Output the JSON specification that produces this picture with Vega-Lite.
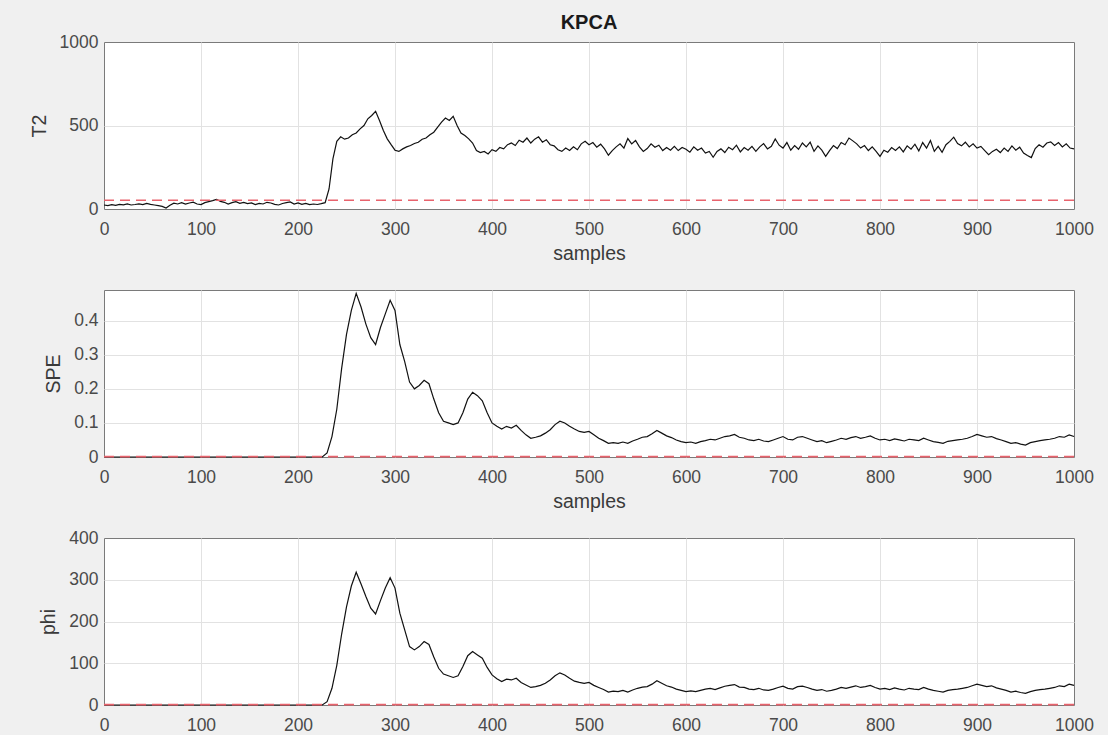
{
  "$schema": "https://vega.github.io/schema/vega-lite/v6.json",
  "background": "#f0f0f0",
  "padding": {"left": 28, "top": 12, "right": 16, "bottom": 2},
  "bounds": "flush",
  "spacing": 81,
  "config": {
    "font": "Liberation Sans",
    "view": {"stroke": "#7a7a7a", "strokeWidth": 1, "fill": "white"},
    "axis": {
      "labelFont": "Liberation Sans", "labelFontSize": 17.5, "labelColor": "#4a4a4a",
      "titleFont": "Liberation Sans", "titleFontSize": 19.5, "titleFontWeight": "normal", "titleColor": "#3a3a3a",
      "gridColor": "#e2e2e2", "gridWidth": 1,
      "domain": false, "ticks": false,
      "labelFlush": false, "labelOverlap": false
    },
    "axisX": {"labelPadding": 11, "titlePadding": 7},
    "axisY": {"labelPadding": 6, "titlePadding": 10}
  },
  "datasets": {
    "t2": [
      {"sample":0,"T2":24},{"sample":4,"T2":20},{"sample":8,"T2":26},{"sample":12,"T2":22},{"sample":16,"T2":28},{"sample":20,"T2":25},{"sample":24,"T2":30},{"sample":28,"T2":24},{"sample":32,"T2":27},{"sample":36,"T2":31},
      {"sample":40,"T2":26},{"sample":44,"T2":34},{"sample":48,"T2":28},{"sample":52,"T2":24},{"sample":56,"T2":20},{"sample":60,"T2":16},{"sample":64,"T2":6},{"sample":68,"T2":22},{"sample":72,"T2":35},{"sample":76,"T2":30},
      {"sample":80,"T2":38},{"sample":84,"T2":29},{"sample":88,"T2":36},{"sample":92,"T2":41},{"sample":96,"T2":30},{"sample":100,"T2":26},{"sample":104,"T2":38},{"sample":108,"T2":44},{"sample":112,"T2":50},{"sample":116,"T2":58},
      {"sample":120,"T2":46},{"sample":124,"T2":40},{"sample":128,"T2":30},{"sample":132,"T2":38},{"sample":136,"T2":44},{"sample":140,"T2":34},{"sample":144,"T2":40},{"sample":148,"T2":32},{"sample":152,"T2":36},{"sample":156,"T2":26},
      {"sample":160,"T2":34},{"sample":164,"T2":30},{"sample":168,"T2":40},{"sample":172,"T2":36},{"sample":176,"T2":28},{"sample":180,"T2":24},{"sample":184,"T2":33},{"sample":188,"T2":38},{"sample":192,"T2":42},{"sample":196,"T2":30},
      {"sample":200,"T2":36},{"sample":204,"T2":28},{"sample":208,"T2":34},{"sample":212,"T2":26},{"sample":216,"T2":30},{"sample":220,"T2":27},{"sample":224,"T2":32},{"sample":228,"T2":38},{"sample":232,"T2":120},{"sample":236,"T2":300},
      {"sample":240,"T2":405},{"sample":244,"T2":432},{"sample":248,"T2":418},{"sample":252,"T2":425},{"sample":256,"T2":445},{"sample":260,"T2":455},{"sample":264,"T2":480},{"sample":268,"T2":500},{"sample":272,"T2":540},{"sample":276,"T2":560},
      {"sample":280,"T2":585},{"sample":284,"T2":530},{"sample":288,"T2":470},{"sample":292,"T2":420},{"sample":296,"T2":385},{"sample":300,"T2":352},{"sample":304,"T2":345},{"sample":308,"T2":360},{"sample":312,"T2":372},{"sample":316,"T2":380},
      {"sample":320,"T2":392},{"sample":324,"T2":400},{"sample":328,"T2":418},{"sample":332,"T2":425},{"sample":336,"T2":445},{"sample":340,"T2":460},{"sample":344,"T2":490},{"sample":348,"T2":520},{"sample":352,"T2":545},{"sample":356,"T2":530},
      {"sample":360,"T2":555},{"sample":364,"T2":500},{"sample":368,"T2":455},{"sample":372,"T2":440},{"sample":376,"T2":420},{"sample":380,"T2":395},{"sample":384,"T2":350},{"sample":388,"T2":338},{"sample":392,"T2":345},{"sample":396,"T2":330},
      {"sample":400,"T2":355},{"sample":404,"T2":345},{"sample":408,"T2":368},{"sample":412,"T2":360},{"sample":416,"T2":385},{"sample":420,"T2":395},{"sample":424,"T2":380},{"sample":428,"T2":412},{"sample":432,"T2":400},{"sample":436,"T2":425},
      {"sample":440,"T2":395},{"sample":444,"T2":418},{"sample":448,"T2":432},{"sample":452,"T2":400},{"sample":456,"T2":415},{"sample":460,"T2":385},{"sample":464,"T2":378},{"sample":468,"T2":355},{"sample":472,"T2":345},{"sample":476,"T2":365},
      {"sample":480,"T2":350},{"sample":484,"T2":372},{"sample":488,"T2":355},{"sample":492,"T2":390},{"sample":496,"T2":405},{"sample":500,"T2":385},{"sample":504,"T2":398},{"sample":508,"T2":370},{"sample":512,"T2":388},{"sample":516,"T2":360},
      {"sample":520,"T2":322},{"sample":524,"T2":350},{"sample":528,"T2":372},{"sample":532,"T2":390},{"sample":536,"T2":365},{"sample":540,"T2":422},{"sample":544,"T2":390},{"sample":548,"T2":410},{"sample":552,"T2":372},{"sample":556,"T2":345},
      {"sample":560,"T2":362},{"sample":564,"T2":390},{"sample":568,"T2":370},{"sample":572,"T2":382},{"sample":576,"T2":350},{"sample":580,"T2":368},{"sample":584,"T2":352},{"sample":588,"T2":375},{"sample":592,"T2":350},{"sample":596,"T2":368},
      {"sample":600,"T2":358},{"sample":604,"T2":340},{"sample":608,"T2":372},{"sample":612,"T2":352},{"sample":616,"T2":365},{"sample":620,"T2":335},{"sample":624,"T2":345},{"sample":628,"T2":310},{"sample":632,"T2":345},{"sample":636,"T2":360},
      {"sample":640,"T2":338},{"sample":644,"T2":370},{"sample":648,"T2":355},{"sample":652,"T2":382},{"sample":656,"T2":342},{"sample":660,"T2":368},{"sample":664,"T2":352},{"sample":668,"T2":375},{"sample":672,"T2":345},{"sample":676,"T2":372},
      {"sample":680,"T2":392},{"sample":684,"T2":360},{"sample":688,"T2":375},{"sample":692,"T2":420},{"sample":696,"T2":382},{"sample":700,"T2":365},{"sample":704,"T2":398},{"sample":708,"T2":352},{"sample":712,"T2":380},{"sample":716,"T2":358},
      {"sample":720,"T2":395},{"sample":724,"T2":372},{"sample":728,"T2":400},{"sample":732,"T2":345},{"sample":736,"T2":378},{"sample":740,"T2":352},{"sample":744,"T2":315},{"sample":748,"T2":350},{"sample":752,"T2":380},{"sample":756,"T2":362},
      {"sample":760,"T2":398},{"sample":764,"T2":385},{"sample":768,"T2":425},{"sample":772,"T2":408},{"sample":776,"T2":390},{"sample":780,"T2":365},{"sample":784,"T2":380},{"sample":788,"T2":350},{"sample":792,"T2":372},{"sample":796,"T2":345},
      {"sample":800,"T2":315},{"sample":804,"T2":352},{"sample":808,"T2":340},{"sample":812,"T2":368},{"sample":816,"T2":350},{"sample":820,"T2":372},{"sample":824,"T2":342},{"sample":828,"T2":378},{"sample":832,"T2":358},{"sample":836,"T2":388},
      {"sample":840,"T2":348},{"sample":844,"T2":398},{"sample":848,"T2":365},{"sample":852,"T2":410},{"sample":856,"T2":345},{"sample":860,"T2":375},{"sample":864,"T2":340},{"sample":868,"T2":385},{"sample":872,"T2":405},{"sample":876,"T2":430},
      {"sample":880,"T2":392},{"sample":884,"T2":378},{"sample":888,"T2":400},{"sample":892,"T2":372},{"sample":896,"T2":390},{"sample":900,"T2":365},{"sample":904,"T2":375},{"sample":908,"T2":350},{"sample":912,"T2":325},{"sample":916,"T2":345},
      {"sample":920,"T2":358},{"sample":924,"T2":338},{"sample":928,"T2":365},{"sample":932,"T2":345},{"sample":936,"T2":378},{"sample":940,"T2":352},{"sample":944,"T2":370},{"sample":948,"T2":335},{"sample":952,"T2":320},{"sample":956,"T2":308},
      {"sample":960,"T2":362},{"sample":964,"T2":385},{"sample":968,"T2":370},{"sample":972,"T2":395},{"sample":976,"T2":402},{"sample":980,"T2":380},{"sample":984,"T2":398},{"sample":988,"T2":372},{"sample":992,"T2":390},{"sample":996,"T2":365},
      {"sample":1000,"T2":360}
    ],
    "series": [
      {"sample":0,"SPE":0,"phi":0},{"sample":50,"SPE":0,"phi":0},{"sample":100,"SPE":0,"phi":0},{"sample":150,"SPE":0,"phi":0},{"sample":200,"SPE":0,"phi":0},{"sample":225,"SPE":0,"phi":0},
      {"sample":230,"SPE":0.012,"phi":8},{"sample":235,"SPE":0.06,"phi":40},{"sample":240,"SPE":0.14,"phi":95},{"sample":245,"SPE":0.26,"phi":170},
      {"sample":250,"SPE":0.36,"phi":235},{"sample":255,"SPE":0.43,"phi":285},{"sample":260,"SPE":0.48,"phi":318},{"sample":265,"SPE":0.44,"phi":290},{"sample":270,"SPE":0.39,"phi":260},{"sample":275,"SPE":0.35,"phi":232},{"sample":280,"SPE":0.33,"phi":218},{"sample":285,"SPE":0.38,"phi":250},{"sample":290,"SPE":0.42,"phi":280},{"sample":295,"SPE":0.46,"phi":305},
      {"sample":300,"SPE":0.43,"phi":280},{"sample":305,"SPE":0.33,"phi":220},{"sample":310,"SPE":0.28,"phi":180},{"sample":315,"SPE":0.22,"phi":140},{"sample":320,"SPE":0.2,"phi":132},{"sample":325,"SPE":0.21,"phi":140},{"sample":330,"SPE":0.225,"phi":152},{"sample":335,"SPE":0.215,"phi":145},{"sample":340,"SPE":0.17,"phi":115},{"sample":345,"SPE":0.13,"phi":88},
      {"sample":350,"SPE":0.105,"phi":74},{"sample":355,"SPE":0.1,"phi":70},{"sample":360,"SPE":0.095,"phi":66},{"sample":365,"SPE":0.1,"phi":70},{"sample":370,"SPE":0.13,"phi":92},{"sample":375,"SPE":0.17,"phi":118},{"sample":380,"SPE":0.19,"phi":128},{"sample":385,"SPE":0.18,"phi":120},{"sample":390,"SPE":0.165,"phi":112},{"sample":395,"SPE":0.13,"phi":90},
      {"sample":400,"SPE":0.1,"phi":72},{"sample":405,"SPE":0.09,"phi":63},{"sample":410,"SPE":0.082,"phi":56},{"sample":415,"SPE":0.09,"phi":62},{"sample":420,"SPE":0.085,"phi":60},{"sample":425,"SPE":0.093,"phi":64},{"sample":430,"SPE":0.078,"phi":54},{"sample":435,"SPE":0.065,"phi":48},{"sample":440,"SPE":0.055,"phi":42},{"sample":445,"SPE":0.058,"phi":44},
      {"sample":450,"SPE":0.062,"phi":47},{"sample":455,"SPE":0.07,"phi":52},{"sample":460,"SPE":0.08,"phi":60},{"sample":465,"SPE":0.095,"phi":70},{"sample":470,"SPE":0.105,"phi":77},{"sample":475,"SPE":0.1,"phi":72},{"sample":480,"SPE":0.09,"phi":64},{"sample":485,"SPE":0.082,"phi":57},{"sample":490,"SPE":0.075,"phi":54},{"sample":495,"SPE":0.072,"phi":52},
      {"sample":500,"SPE":0.075,"phi":54},{"sample":505,"SPE":0.065,"phi":47},{"sample":510,"SPE":0.055,"phi":42},{"sample":515,"SPE":0.048,"phi":37},{"sample":520,"SPE":0.04,"phi":31},{"sample":525,"SPE":0.042,"phi":33},{"sample":530,"SPE":0.04,"phi":32},{"sample":535,"SPE":0.044,"phi":35},{"sample":540,"SPE":0.04,"phi":31},{"sample":545,"SPE":0.047,"phi":36},
      {"sample":550,"SPE":0.052,"phi":40},{"sample":555,"SPE":0.058,"phi":43},{"sample":560,"SPE":0.06,"phi":44},{"sample":565,"SPE":0.068,"phi":50},{"sample":570,"SPE":0.078,"phi":58},{"sample":575,"SPE":0.07,"phi":52},{"sample":580,"SPE":0.062,"phi":46},{"sample":585,"SPE":0.057,"phi":43},{"sample":590,"SPE":0.05,"phi":38},{"sample":595,"SPE":0.045,"phi":35},
      {"sample":600,"SPE":0.042,"phi":32},{"sample":605,"SPE":0.044,"phi":34},{"sample":610,"SPE":0.04,"phi":32},{"sample":615,"SPE":0.045,"phi":35},{"sample":620,"SPE":0.048,"phi":38},{"sample":625,"SPE":0.052,"phi":40},{"sample":630,"SPE":0.05,"phi":37},{"sample":635,"SPE":0.055,"phi":41},{"sample":640,"SPE":0.06,"phi":45},{"sample":645,"SPE":0.062,"phi":47},
      {"sample":650,"SPE":0.066,"phi":49},{"sample":655,"SPE":0.058,"phi":43},{"sample":660,"SPE":0.055,"phi":42},{"sample":665,"SPE":0.05,"phi":38},{"sample":670,"SPE":0.048,"phi":37},{"sample":675,"SPE":0.052,"phi":40},{"sample":680,"SPE":0.047,"phi":36},{"sample":685,"SPE":0.045,"phi":35},{"sample":690,"SPE":0.05,"phi":38},{"sample":695,"SPE":0.055,"phi":42},
      {"sample":700,"SPE":0.06,"phi":45},{"sample":705,"SPE":0.052,"phi":40},{"sample":710,"SPE":0.05,"phi":38},{"sample":715,"SPE":0.058,"phi":44},{"sample":720,"SPE":0.06,"phi":45},{"sample":725,"SPE":0.055,"phi":42},{"sample":730,"SPE":0.05,"phi":38},{"sample":735,"SPE":0.045,"phi":35},{"sample":740,"SPE":0.048,"phi":37},{"sample":745,"SPE":0.042,"phi":33},
      {"sample":750,"SPE":0.046,"phi":35},{"sample":755,"SPE":0.05,"phi":38},{"sample":760,"SPE":0.055,"phi":42},{"sample":765,"SPE":0.052,"phi":40},{"sample":770,"SPE":0.057,"phi":43},{"sample":775,"SPE":0.06,"phi":46},{"sample":780,"SPE":0.055,"phi":42},{"sample":785,"SPE":0.058,"phi":44},{"sample":790,"SPE":0.062,"phi":47},{"sample":795,"SPE":0.055,"phi":42},
      {"sample":800,"SPE":0.05,"phi":38},{"sample":805,"SPE":0.052,"phi":40},{"sample":810,"SPE":0.048,"phi":37},{"sample":815,"SPE":0.053,"phi":41},{"sample":820,"SPE":0.05,"phi":38},{"sample":825,"SPE":0.047,"phi":36},{"sample":830,"SPE":0.052,"phi":40},{"sample":835,"SPE":0.05,"phi":38},{"sample":840,"SPE":0.048,"phi":37},{"sample":845,"SPE":0.055,"phi":42},
      {"sample":850,"SPE":0.05,"phi":38},{"sample":855,"SPE":0.045,"phi":35},{"sample":860,"SPE":0.043,"phi":33},{"sample":865,"SPE":0.04,"phi":31},{"sample":870,"SPE":0.046,"phi":35},{"sample":875,"SPE":0.048,"phi":37},{"sample":880,"SPE":0.05,"phi":38},{"sample":885,"SPE":0.052,"phi":40},{"sample":890,"SPE":0.055,"phi":42},{"sample":895,"SPE":0.06,"phi":46},
      {"sample":900,"SPE":0.066,"phi":50},{"sample":905,"SPE":0.062,"phi":47},{"sample":910,"SPE":0.058,"phi":44},{"sample":915,"SPE":0.06,"phi":46},{"sample":920,"SPE":0.054,"phi":41},{"sample":925,"SPE":0.05,"phi":38},{"sample":930,"SPE":0.045,"phi":35},{"sample":935,"SPE":0.04,"phi":31},{"sample":940,"SPE":0.042,"phi":33},{"sample":945,"SPE":0.038,"phi":30},
      {"sample":950,"SPE":0.035,"phi":28},{"sample":955,"SPE":0.042,"phi":32},{"sample":960,"SPE":0.045,"phi":35},{"sample":965,"SPE":0.048,"phi":37},{"sample":970,"SPE":0.05,"phi":38},{"sample":975,"SPE":0.052,"phi":40},{"sample":980,"SPE":0.055,"phi":42},{"sample":985,"SPE":0.06,"phi":46},{"sample":990,"SPE":0.058,"phi":44},{"sample":995,"SPE":0.065,"phi":50},
      {"sample":1000,"SPE":0.06,"phi":47}
    ]
  },
  "vconcat": [
    {
      "width": 970, "height": 167,
      "title": {"text": "KPCA", "font": "Liberation Sans", "fontSize": 20, "fontWeight": "bold", "color": "#1a1a1a", "anchor": "middle", "frame": "group", "offset": 0},
      "layer": [
        {
          "data": {"name": "t2"},
          "mark": {"type": "line", "color": "#111111", "strokeWidth": 1.2},
          "encoding": {
            "x": {"field": "sample", "type": "quantitative", "scale": {"domain": [0, 1000], "nice": false}, "axis": {"title": "samples", "format": "d", "values": [0,100,200,300,400,500,600,700,800,900,1000], "gridOpacity": {"condition": {"test": "datum.value <= 0 || datum.value >= 1000", "value": 0}, "value": 1}}},
            "y": {"field": "T2", "type": "quantitative", "scale": {"domain": [0, 1000], "nice": false}, "axis": {"title": "T2", "format": "d", "values": [0, 500, 1000], "gridOpacity": {"condition": {"test": "datum.value <= 0 || datum.value >= 1000", "value": 0}, "value": 1}}}
          }
        },
        {
          "data": {"values": [{"limit": 52}]},
          "mark": {"type": "rule", "color": "#e8636d", "strokeDash": [10, 6], "strokeWidth": 1.6},
          "encoding": {"y": {"field": "limit", "type": "quantitative"}}
        }
      ]
    },
    {
      "width": 970, "height": 167,
      "layer": [
        {
          "data": {"name": "series"},
          "mark": {"type": "line", "color": "#111111", "strokeWidth": 1.2},
          "encoding": {
            "x": {"field": "sample", "type": "quantitative", "scale": {"domain": [0, 1000], "nice": false}, "axis": {"title": "samples", "format": "d", "values": [0,100,200,300,400,500,600,700,800,900,1000], "gridOpacity": {"condition": {"test": "datum.value <= 0 || datum.value >= 1000", "value": 0}, "value": 1}}},
            "y": {"field": "SPE", "type": "quantitative", "scale": {"domain": [0, 0.49], "nice": false}, "axis": {"title": "SPE", "format": "~g", "values": [0, 0.1, 0.2, 0.3, 0.4], "gridOpacity": {"condition": {"test": "datum.value <= 0", "value": 0}, "value": 1}}}
          }
        },
        {
          "data": {"values": [{"limit": 0.001}]},
          "mark": {"type": "rule", "color": "#e8636d", "strokeDash": [10, 6], "strokeWidth": 1.6},
          "encoding": {"y": {"field": "limit", "type": "quantitative"}}
        }
      ]
    },
    {
      "width": 970, "height": 167,
      "layer": [
        {
          "data": {"name": "series"},
          "mark": {"type": "line", "color": "#111111", "strokeWidth": 1.2},
          "encoding": {
            "x": {"field": "sample", "type": "quantitative", "scale": {"domain": [0, 1000], "nice": false}, "axis": {"title": null, "format": "d", "values": [0,100,200,300,400,500,600,700,800,900,1000], "gridOpacity": {"condition": {"test": "datum.value <= 0 || datum.value >= 1000", "value": 0}, "value": 1}}},
            "y": {"field": "phi", "type": "quantitative", "scale": {"domain": [0, 400], "nice": false}, "axis": {"title": "phi", "format": "d", "values": [0, 100, 200, 300, 400], "gridOpacity": {"condition": {"test": "datum.value <= 0 || datum.value >= 400", "value": 0}, "value": 1}}}
          }
        },
        {
          "data": {"values": [{"limit": 1}]},
          "mark": {"type": "rule", "color": "#e8636d", "strokeDash": [10, 6], "strokeWidth": 1.6},
          "encoding": {"y": {"field": "limit", "type": "quantitative"}}
        }
      ]
    }
  ]
}
